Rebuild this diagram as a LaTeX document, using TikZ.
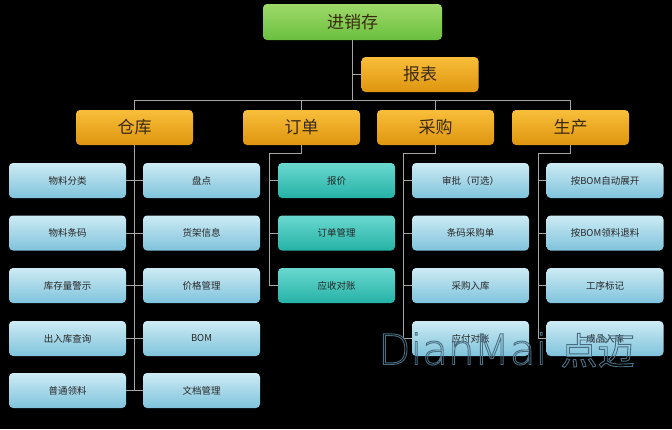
\documentclass[tikz,border=0pt]{standalone}
\usepackage{fontspec}
\newfontfamily\cjk{Noto Sans CJK SC}
\newfontfamily\wmfont{DejaVu Sans ExtraLight}
\begin{document}
\begin{tikzpicture}[x=1pt,y=-1pt,
  line/.style={draw=gray!70, line width=0.8pt},
  basebox/.style={rounded corners=4pt, inner sep=0pt, minimum width=117pt, minimum height=35pt},
  leaf/.style={basebox, top color=lightleaftop, bottom color=lightleafbot, text=black!85, font=\cjk\fontsize{9.5}{10}\selectfont},
  teal/.style={basebox, top color=tealtop, bottom color=tealbot, text=black!85, font=\cjk\fontsize{9.5}{10}\selectfont},
  head/.style={basebox, top color=orangetop, bottom color=orangebot, text=headtext, font=\cjk\fontsize{17}{18}\selectfont},
  rootbox/.style={basebox, minimum width=179pt, minimum height=36pt, top color=greentop, bottom color=greenbot, text=headtext, font=\cjk\fontsize{17}{18}\selectfont}
]
\definecolor{lightleaftop}{HTML}{CDEBF4}
\definecolor{lightleafbot}{HTML}{7FC3DC}
\definecolor{tealtop}{HTML}{6AD8CF}
\definecolor{tealbot}{HTML}{25B2A6}
\definecolor{orangetop}{HTML}{F8BE3A}
\definecolor{orangebot}{HTML}{DF950F}
\definecolor{greentop}{HTML}{9ED968}
\definecolor{greenbot}{HTML}{6ABF3F}
\definecolor{headtext}{HTML}{3A2A12}
\definecolor{wmcol}{HTML}{4A6E82}
\useasboundingbox (0,0) rectangle (672,429);
\fill[black] (0,0) rectangle (672,429);

% top
\node[rootbox] (root) at (352.5,22) {进销存};
\node[head] (bb) at (420,74.5) {报表};
\node[head] (ck) at (134.5,127.5) {仓库};
\node[head] (dd) at (301.5,127.5) {订单};
\node[head] (cg) at (435.5,127.5) {采购};
\node[head] (sc) at (570.5,127.5) {生产};

% 仓库 leaves
\node[leaf] (l1) at (67.5,180.5) {物料分类};
\node[leaf] (l2) at (67.5,233) {物料条码};
\node[leaf] (l3) at (67.5,285.5) {库存量警示};
\node[leaf] (l4) at (67.5,338.5) {出入库查询};
\node[leaf] (l5) at (67.5,390.5) {普通领料};
\node[leaf] (r1) at (201.5,180.5) {盘点};
\node[leaf] (r2) at (201.5,233) {货架信息};
\node[leaf] (r3) at (201.5,285.5) {价格管理};
\node[leaf] (r4) at (201.5,338.5) {BOM};
\node[leaf] (r5) at (201.5,390.5) {文档管理};

% 订单 leaves
\node[teal] (o1) at (336.5,180.5) {报价};
\node[teal] (o2) at (336.5,233) {订单管理};
\node[teal] (o3) at (336.5,285.5) {应收对账};

% 采购 leaves
\node[leaf] (p1) at (470.5,180.5) {审批（可选）};
\node[leaf] (p2) at (470.5,233) {条码采购单};
\node[leaf] (p3) at (470.5,285.5) {采购入库};
\node[leaf] (p4) at (470.5,338.5) {应付对账};

% 生产 leaves
\node[leaf] (s1) at (605,180.5) {按BOM自动展开};
\node[leaf] (s2) at (605,233) {按BOM领料退料};
\node[leaf] (s3) at (605,285.5) {工序标记};
\node[leaf] (s4) at (605,338.5) {成品入库};

% connectors
\coordinate (busM) at (352.5,100);
\coordinate (busL) at (134.5,100);
\coordinate (busR) at (570.5,100);
\draw[line] (root.south) -- (busM);
\draw[line] (root.south |- bb.west) -- (bb.west);
\draw[line] (busL) -- (busR);
\draw[line] (ck.north |- busL) -- (ck.north);
\draw[line] (dd.north |- busL) -- (dd.north);
\draw[line] (cg.north |- busL) -- (cg.north);
\draw[line] (sc.north |- busL) -- (sc.north);

% 仓库 tree
\draw[line] (ck.south) -- (ck.south |- l5.east);
\foreach \i in {1,...,5} {\draw[line] (l\i.east) -- (r\i.west);}

% 订单 tree
\coordinate (ddk) at (269,153);
\draw[line] (dd.south) |- (ddk) -- (ddk |- o3.west);
\foreach \i in {1,2,3} {\draw[line] (ddk |- o\i.west) -- (o\i.west);}

% 采购 tree
\coordinate (cgk) at (403,153);
\draw[line] (cg.south) |- (cgk) -- (cgk |- p4.west);
\foreach \i in {1,...,4} {\draw[line] (cgk |- p\i.west) -- (p\i.west);}

% 生产 tree
\coordinate (sck) at (538,153);
\draw[line] (sc.south) |- (sck) -- (sck |- s4.west);
\foreach \i in {1,...,4} {\draw[line] (sck |- s\i.west) -- (s\i.west);}

% watermark (outlined text)
\node[text=wmcol, inner sep=0pt, anchor=west] (wm) at (378,350)
  {\special{pdf:literal direct 1 Tr 0.9 w}\wmfont\fontsize{42}{42}\selectfont Dian\kern-1ptMai {\cjk\fontsize{37}{37}\selectfont 点迈}\special{pdf:literal direct 0 Tr}};
\end{tikzpicture}
\end{document}
